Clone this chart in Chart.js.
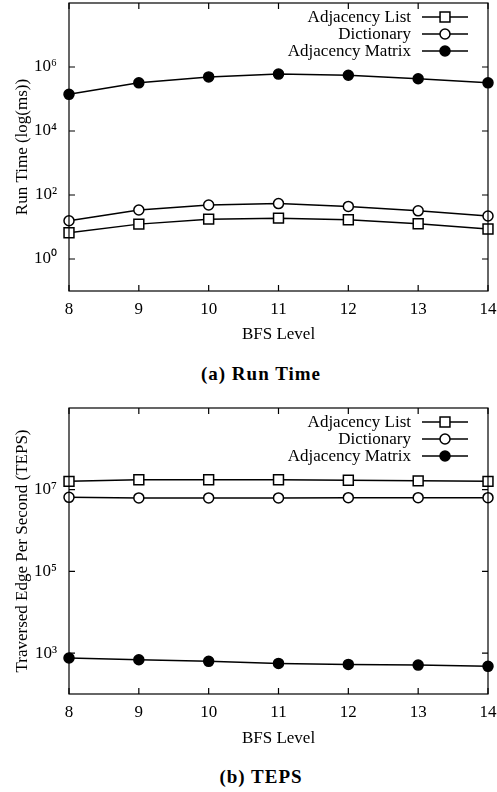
<!DOCTYPE html>
<html>
<head>
<meta charset="utf-8">
<script src="https://cdn.jsdelivr.net/npm/chart.js@4.4.0/dist/chart.umd.min.js"></script>
<style>
  body { margin: 0; background: #fff; width: 497px; height: 792px; position: relative; overflow: hidden; font-family: 'Liberation Serif', serif; }
  .box { position: absolute; left: 0; width: 497px; }
  .caption { position: absolute; left: 0; width: 522px; text-align: center; font-weight: bold; font-size: 19px; letter-spacing: 1px; line-height: 20px; color: #000; }
</style>
</head>
<body>
<div class="box" style="top:0;height:345px"><canvas id="runChart"></canvas></div>
<div class="caption" style="top:364px">(a) Run Time</div>
<div class="box" style="top:405px;height:344px"><canvas id="tepsChart"></canvas></div>
<div class="caption" style="top:767px">(b) TEPS</div>
<script>
const levels = [8, 9, 10, 11, 12, 13, 14];
const seriesNames = ['Adjacency List', 'Dictionary', 'Adjacency Matrix'];

// run time in ms
const runList = [6.6, 12.3, 17.6, 18.9, 16.8, 12.6, 8.7];
const runDict = [15.7, 34, 48.5, 54, 44, 32, 22];
const runMatrix = [1.4e5, 3.2e5, 4.9e5, 6.0e5, 5.5e5, 4.3e5, 3.2e5];
const runTicks = [1, 1e2, 1e4, 1e6];

// traversed edges per second
const tepsList = [1.6e7, 1.75e7, 1.75e7, 1.75e7, 1.7e7, 1.65e7, 1.6e7];
const tepsDict = [6.5e6, 6.3e6, 6.3e6, 6.3e6, 6.4e6, 6.4e6, 6.4e6];
const tepsMatrix = [760, 690, 630, 560, 530, 510, 475];
const tepsTicks = [1e3, 1e5, 1e7];

const FONT = "'Liberation Serif', 'Times New Roman', serif";
const sup = { '0': '⁰', '1': '¹', '2': '²', '3': '³', '4': '⁴', '5': '⁵', '6': '⁶', '7': '⁷', '8': '⁸', '9': '⁹', '-': '⁻' };
const marks = [
    { pointStyle: 'rect', radius: 7, fill: '#fff' },
    { pointStyle: 'circle', radius: 5, fill: '#fff' },
    { pointStyle: 'circle', radius: 5, fill: '#000' }
];

function powLabel(v) {
    const e = String(Math.round(Math.log10(v)));
    return '10' + e.split('').map(c => sup[c]).join('');
}

function drawMark(ctx, m, x, y) {
    ctx.save();
    ctx.fillStyle = m.fill;
    ctx.strokeStyle = '#000';
    ctx.lineWidth = 1.5;
    if (Chart.helpers && Chart.helpers.drawPoint) {
        Chart.helpers.drawPoint(ctx, { pointStyle: m.pointStyle, radius: m.radius, borderWidth: 1.5, rotation: 0 }, x, y);
    } else {
        ctx.beginPath();
        if (m.pointStyle === 'rect') {
            const s = m.radius * Math.SQRT1_2;
            ctx.rect(x - s, y - s, 2 * s, 2 * s);
        } else {
            ctx.arc(x, y, m.radius, 0, Math.PI * 2);
        }
        ctx.fill();
        ctx.stroke();
    }
    ctx.restore();
}

// border, inward ticks on all four sides, and gnuplot style key
const framePlugin = {
    id: 'frame',
    afterDatasetsDraw(chart) {
        const { ctx, chartArea: a } = chart;
        const xs = chart.scales.x, ys = chart.scales.y;
        const tl = 6;
        ctx.save();
        ctx.strokeStyle = '#000';
        ctx.lineWidth = 1.2;
        ctx.strokeRect(a.left, a.top, a.right - a.left, a.bottom - a.top);
        ctx.beginPath();
        xs.ticks.forEach(t => {
            const px = xs.getPixelForValue(t.value);
            ctx.moveTo(px, a.bottom); ctx.lineTo(px, a.bottom - tl);
            ctx.moveTo(px, a.top); ctx.lineTo(px, a.top + tl);
        });
        ys.ticks.forEach(t => {
            const py = ys.getPixelForValue(t.value);
            ctx.moveTo(a.left, py); ctx.lineTo(a.left + tl, py);
            ctx.moveTo(a.right, py); ctx.lineTo(a.right - tl, py);
        });
        ctx.stroke();

        // key
        ctx.font = '17px ' + FONT;
        ctx.fillStyle = '#000';
        ctx.textAlign = 'right';
        ctx.textBaseline = 'middle';
        chart.data.datasets.forEach((ds, i) => {
            const y = a.top + 14 + i * 17;
            ctx.fillText(ds.label, a.right - 77, y + 1);
            ctx.beginPath();
            ctx.lineWidth = 1.5;
            ctx.moveTo(a.right - 66, y);
            ctx.lineTo(a.right - 20, y);
            ctx.stroke();
            drawMark(ctx, marks[i], a.right - 43, y);
        });
        ctx.restore();
    }
};

function makeChart(id, cfg) {
    const datasets = cfg.series.map((vals, i) => ({
        label: seriesNames[i],
        data: vals.map((v, j) => ({ x: levels[j], y: v })),
        borderColor: '#000',
        borderWidth: 1.5,
        pointStyle: marks[i].pointStyle,
        pointRadius: marks[i].radius,
        pointHoverRadius: marks[i].radius,
        pointBackgroundColor: marks[i].fill,
        pointBorderColor: '#000',
        pointBorderWidth: 1.5,
        tension: 0,
        clip: false
    }));

    return new Chart(document.getElementById(id), {
        type: 'line',
        data: { datasets },
        plugins: [framePlugin],
        options: {
            responsive: true,
            maintainAspectRatio: false,
            animation: false,
            events: [],
            layout: { autoPadding: false, padding: { top: 3, right: 9, left: 0, bottom: 0 } },
            plugins: { legend: { display: false }, tooltip: { enabled: false } },
            scales: {
                x: {
                    type: 'linear',
                    min: 8,
                    max: 14,
                    grid: { display: false, drawTicks: false },
                    border: { display: false },
                    ticks: { stepSize: 1, padding: 8, color: '#000', font: { family: FONT, size: 17 } },
                    title: { display: true, text: 'BFS Level', color: '#000', font: { family: FONT, size: 17 }, padding: { top: 0, bottom: 0 } },
                    afterFit: s => { s.height = cfg.xHeight; s.paddingLeft = 0; s.paddingRight = 0; }
                },
                y: {
                    type: 'logarithmic',
                    min: cfg.yMin,
                    max: cfg.yMax,
                    grid: { display: false, drawTicks: false },
                    border: { display: false },
                    afterBuildTicks: s => { s.ticks = cfg.yTicks.map(v => ({ value: v })); },
                    ticks: {
                        padding: 12,
                        color: '#000',
                        font: { family: FONT, size: 17 },
                        callback: v => powLabel(v)
                    },
                    title: { display: true, text: cfg.yTitle, color: '#000', font: { family: FONT, size: 17 }, padding: { top: 12, bottom: 0 } },
                    afterFit: s => { s.width = 69; s.paddingTop = 0; s.paddingBottom = 0; }
                }
            }
        }
    });
}

makeChart('runChart', {
    series: [runList, runDict, runMatrix],
    yMin: 0.1, yMax: 1e8, yTicks: runTicks,
    yTitle: 'Run Time (log(ms))',
    xHeight: 54
});

makeChart('tepsChart', {
    series: [tepsList, tepsDict, tepsMatrix],
    yMin: 1e2, yMax: 1e9, yTicks: tepsTicks,
    yTitle: 'Traversed Edge Per Second (TEPS)',
    xHeight: 55
});
</script>
</body>
</html>
